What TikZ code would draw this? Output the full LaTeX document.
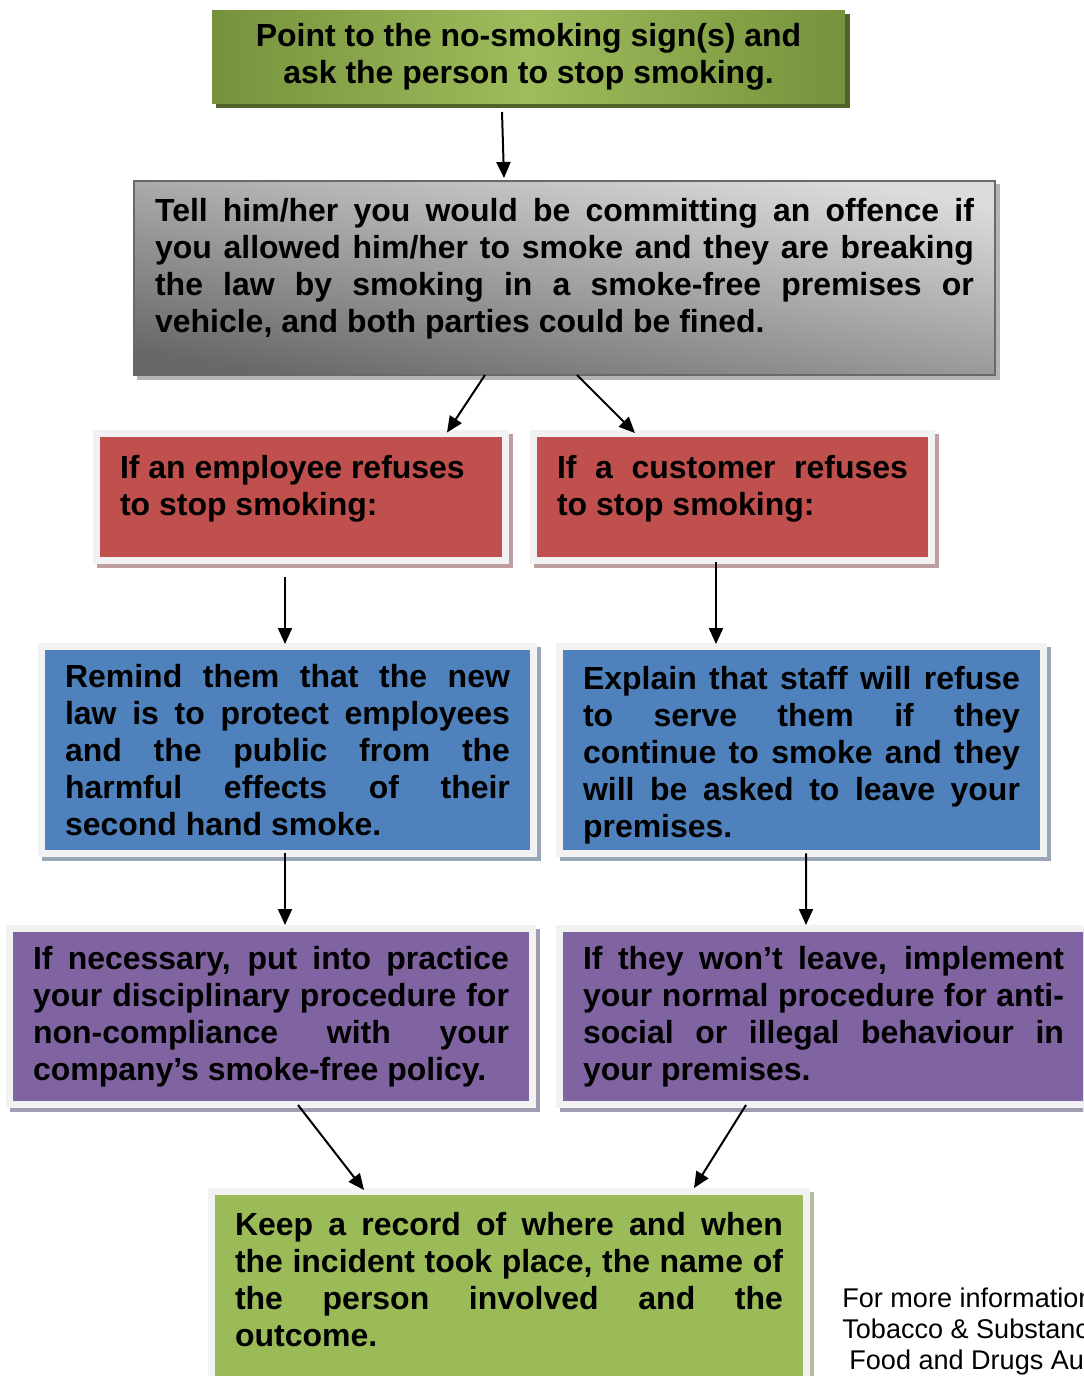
\documentclass[tikz,border=0pt]{standalone}
\usepackage{fontspec}
\setmainfont{Liberation Sans}
\usetikzlibrary{calc,arrows.meta}
\definecolor{olivedark}{RGB}{118,146,60}
\definecolor{olivelight}{RGB}{158,188,92}
\definecolor{oliveshadow}{RGB}{79,98,40}
\definecolor{graylight}{RGB}{220,220,220}
\definecolor{graydark}{RGB}{104,104,104}
\definecolor{grayborder}{RGB}{105,105,105}
\definecolor{grayshadow}{RGB}{180,180,180}
\definecolor{framegray}{RGB}{242,242,242}
\definecolor{boxred}{RGB}{192,80,77}
\definecolor{redshadow}{RGB}{190,158,158}
\definecolor{boxblue}{RGB}{79,129,189}
\definecolor{blueshadow}{RGB}{152,166,184}
\definecolor{boxpurple}{RGB}{128,100,162}
\definecolor{purpleshadow}{RGB}{162,156,176}
\definecolor{boxgreen}{RGB}{155,187,89}
\definecolor{greenshadow}{RGB}{176,190,158}
\newcommand\boxgap[1]{\par\vspace{#1}\nointerlineskip\hbox{}}
\tolerance=10000
\hbadness=10000
\begin{document}
\begin{tikzpicture}[x=.02cm,y=-.02cm,
txt/.style={font=\fontsize{18.2}{21.05}\selectfont\bfseries,align=justify,inner ysep=0,outer sep=0},
boxshadow/.style={preaction={draw=#1,fill=#1,transform canvas={xshift=.08cm,yshift=-.08cm}}},
framed/.style={txt,draw=framegray,line width=.14cm,inner xsep=.47cm,fill=#1},
arr/.style={line width=.04cm,-{Triangle[length=.32cm,width=.28cm]}}]
\useasboundingbox(0,0)rectangle(1083,1376);
\clip(0,0)rectangle(1083,1376);
\node[txt,align=center,minimum width=12.66cm,minimum height=1.86cm,left color=olivedark,right color=olivedark,middle color=olivelight,boxshadow=oliveshadow](point)at(528.5,57){Point to the no-smoking sign(s) and\\ask the person to stop smoking.};
\node[txt,text width=16.38cm,inner xsep=.42cm,minimum height=3.88cm,draw=grayborder,line width=.04cm,top color=graylight,bottom color=graydark,shading angle=-10,boxshadow=grayshadow](tell)at(564.5,278){Tell him/her you would be committing an offence if\linebreak you allowed him/her to smoke and they are breaking\linebreak the law by smoking in a smoke-free premises or\linebreak vehicle, and both parties could be fined.\boxgap{.38cm}};
\node[framed=boxred,boxshadow=redshadow,text width=7.24cm,minimum height=2.54cm](emp)at(301,497){If an employee refuses\\to stop smoking:\boxgap{.34cm}};
\node[framed=boxred,boxshadow=redshadow,text width=7.02cm,minimum height=2.54cm](cust)at(732.5,497){If a customer refuses\linebreak to stop smoking:\boxgap{.34cm}};
\node[framed=boxblue,boxshadow=blueshadow,text width=8.9cm,minimum height=4.14cm](remind)at(287.5,750){Remind them that the new\linebreak law is to protect employees\linebreak and the public from the\linebreak harmful effects of their\linebreak second hand smoke.};
\node[framed=boxblue,boxshadow=blueshadow,text width=8.74cm,minimum height=4.14cm](explain)at(801.5,750){Explain that staff will refuse\linebreak to serve them if they\linebreak continue to smoke and they\linebreak will be asked to leave your\linebreak premises.\boxgap{-.2cm}};
\node[framed=boxpurple,boxshadow=purpleshadow,text width=9.52cm,minimum height=3.52cm](discip)at(271,1016.5){If necessary, put into practice\linebreak your disciplinary procedure for\linebreak non-compliance with your\linebreak company’s smoke-free policy.};
\node[framed=boxpurple,boxshadow=purpleshadow,text width=9.62cm,minimum height=3.52cm](leave)at(823.5,1016.5){If they won’t leave, implement\linebreak your normal procedure for anti-\linebreak social or illegal behaviour in\linebreak your premises.};
\node[framed=boxgreen,boxshadow=greenshadow,text width=10.96cm,minimum height=4.64cm](record)at(509,1307.5){Keep a record of where and when\linebreak the incident took place, the name of\linebreak the person involved and the\linebreak outcome.\boxgap{1.1cm}};
\node[anchor=west,inner sep=0,align=left,font=\fontsize{15.4}{17.5}\selectfont](info)at(842,1331.5){For more information\\Tobacco \& Substance\\\hspace{4pt}Food and Drugs Authority};
\begin{scope}[arr]
\draw($(point.south)+(-26.5,8.5)$)--($(tell.north)+(-60.5,-3)$);
\draw($(tell.south)+(-79.5,0)$)--($(emp.north)+(146,-1)$);
\draw($(tell.south)+(12.5,0)$)--($(cust.north)+(-97.5,-.5)$);
\draw($(emp.south)+(-16,16.5)$)--($(remind.north)+(-2.5,-2.5)$);
\draw($(cust.south)+(-16.5,1.5)$)--($(explain.north)+(-85.5,-2.5)$);
\draw($(remind.south)+(-2.5,0)$)--($(discip.north)+(14,-3.5)$);
\draw($(explain.south)+(4.5,0)$)--($(leave.north)+(-17.5,-3.5)$);
\draw($(discip.south)+(27,.5)$)--($(record.north)+(-145,-1.5)$);
\draw($(leave.south)+(-77.5,.5)$)--($(record.north)+(185,-3.5)$);
\end{scope}
\end{tikzpicture}
\end{document}
